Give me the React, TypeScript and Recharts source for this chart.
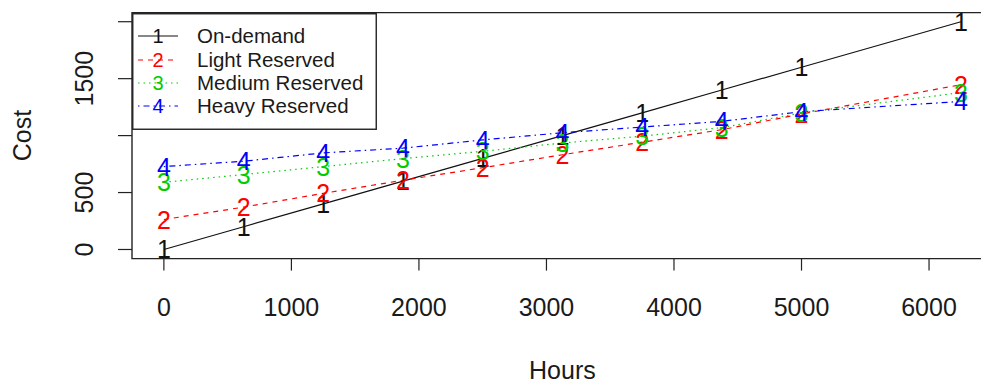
import React from 'react';
import { LineChart, Line, XAxis, YAxis, ReferenceArea, Legend, Label } from 'recharts';

const hours = [0, 625, 1250, 1875, 2500, 3125, 3750, 4375, 5000, 6250];
const onDemand = [0, 200, 400, 600, 800, 1000, 1200, 1400, 1600, 2000];
const lightReserved = [263, 372, 493, 608, 718, 832, 942, 1052, 1190, 1447];
const mediumReserved = [590, 658, 728, 798, 862, 935, 995, 1070, 1200, 1377];
const heavyReserved = [728, 775, 848, 890, 962, 1025, 1075, 1125, 1210, 1300];

const xTicks = [0, 1000, 2000, 3000, 4000, 5000, 6000];
const yTicks = [0, 500, 1000, 1500, 2000];
const yTickLabels: Record<number, string> = { 0: '0', 500: '500', 1000: '', 1500: '1500', 2000: '' };

const seriesNames = ['On-demand', 'Light Reserved', 'Medium Reserved', 'Heavy Reserved'];
const seriesKeys = ['od', 'lr', 'mr', 'hr'];
const seriesColors = ['#111111', '#FF0000', '#00CD00', '#0000FF'];
const seriesDash = ['', '5 5', '1.5 4', '1.5 4 6 4'];
const seriesGlyphs = ['1', '2', '3', '4'];

const data = hours.map((h, i) => ({
  h,
  od: onDemand[i],
  lr: lightReserved[i],
  mr: mediumReserved[i],
  hr: heavyReserved[i],
}));

const FONT = '"Liberation Sans", Arial, Helvetica, sans-serif';
const TEXT = '#1a1a1a';

const makeDot = (idx: number) => (props: any) => {
  const { cx, cy, index } = props;
  if (cx == null || cy == null) return <g key={`d${idx}-${index}`} />;
  return (
    <text
      key={`d${idx}-${index}`}
      x={cx}
      y={cy}
      dy="0.36em"
      textAnchor="middle"
      fontFamily={FONT}
      fontSize={25}
      fill={seriesColors[idx]}
    >
      {seriesGlyphs[idx]}
    </text>
  );
};

const XTick = (props: any) => {
  const { x, y, payload } = props;
  return (
    <text x={x} y={y + 36.5} dy="0.36em" textAnchor="middle" fontFamily={FONT} fontSize={25} fill={TEXT}>
      {String(payload.value)}
    </text>
  );
};

const YTick = (props: any) => {
  const { x, y, payload } = props;
  const cx = x - 34;
  return (
    <text
      x={cx}
      y={y}
      dy="0.36em"
      textAnchor="middle"
      fontFamily={FONT}
      fontSize={25}
      fill={TEXT}
      transform={`rotate(-90 ${cx} ${y})`}
    >
      {yTickLabels[payload.value] ?? ''}
    </text>
  );
};

const HoursLabel = (props: any) => {
  const vb = props.viewBox;
  const cx = vb.x + vb.width / 2;
  return (
    <text x={cx} y={vb.y + 111.5} dy="0.36em" textAnchor="middle" fontFamily={FONT} fontSize={25} fill={TEXT}>
      Hours
    </text>
  );
};

const CostLabel = (props: any) => {
  const vb = props.viewBox;
  const cx = vb.x - 49.5;
  const cy = vb.y + vb.height / 2;
  return (
    <text
      x={cx}
      y={cy}
      dy="0.36em"
      textAnchor="middle"
      fontFamily={FONT}
      fontSize={25}
      fill={TEXT}
      transform={`rotate(-90 ${cx} ${cy})`}
    >
      Cost
    </text>
  );
};

const LegendBox = () => {
  const rowY = [36, 60, 83, 106];
  return (
    <svg width={246} height={120} style={{ display: 'block' }}>
      <rect x={0.75} y={0.75} width={243.5} height={115.5} fill="#fff" stroke="#222" strokeWidth={1.4} />
      {seriesNames.map((name, i) => {
        const y = rowY[i] - 13;
        return (
          <g key={name}>
            <line
              x1={6}
              x2={46}
              y1={y}
              y2={y}
              stroke={seriesColors[i]}
              strokeWidth={1.2}
              strokeDasharray={seriesDash[i] || undefined}
            />
            <text x={26} y={y} dy="0.36em" textAnchor="middle" fontFamily={FONT} fontSize={20} fill={seriesColors[i]}>
              {seriesGlyphs[i]}
            </text>
            <text x={65} y={y} dy="0.36em" fontFamily={FONT} fontSize={20.5} fill={TEXT}>
              {name}
            </text>
          </g>
        );
      })}
    </svg>
  );
};

export default function App() {
  return (
    <div
      style={{
        position: 'absolute',
        left: 0,
        top: 0,
        width: 981,
        height: 384,
        overflow: 'hidden',
        background: '#fff',
      }}
    >
      <LineChart
        width={1000}
        height={384}
        data={data}
        margin={{ top: 12.6, right: 7.2, bottom: 95.4, left: 72 }}
      >
        <XAxis
          dataKey="h"
          type="number"
          domain={[-250, 6500]}
          ticks={xTicks}
          allowDataOverflow
          axisLine={false}
          tickLine={{ stroke: '#222', strokeWidth: 1.2 }}
          tickSize={12}
          tickMargin={0}
          height={30}
          tick={<XTick />}
          interval={0}
        >
          <Label content={<HoursLabel />} />
        </XAxis>
        <YAxis
          type="number"
          domain={[-80, 2080]}
          ticks={yTicks}
          allowDataOverflow
          axisLine={false}
          tickLine={{ stroke: '#222', strokeWidth: 1.2 }}
          tickSize={14}
          tickMargin={0}
          width={60}
          tick={<YTick />}
          interval={0}
        >
          <Label content={<CostLabel />} />
        </YAxis>
        <ReferenceArea
          x1={-250}
          x2={6500}
          y1={-80}
          y2={2080}
          fill="none"
          fillOpacity={0}
          stroke="#222"
          strokeWidth={1.4}
          ifOverflow="visible"
        />
        {seriesKeys.map((k, i) => (
          <Line
            key={k}
            type="linear"
            dataKey={k}
            name={seriesNames[i]}
            stroke={seriesColors[i]}
            strokeWidth={1.2}
            strokeDasharray={seriesDash[i] || undefined}
            dot={makeDot(i)}
            activeDot={false}
            isAnimationActive={false}
          />
        ))}
        <Legend
          layout="vertical"
          align="center"
          verticalAlign="middle"
          wrapperStyle={{ left: 132, top: 13, width: 246, height: 120 }}
          content={<LegendBox />}
        />
      </LineChart>
    </div>
  );
}
